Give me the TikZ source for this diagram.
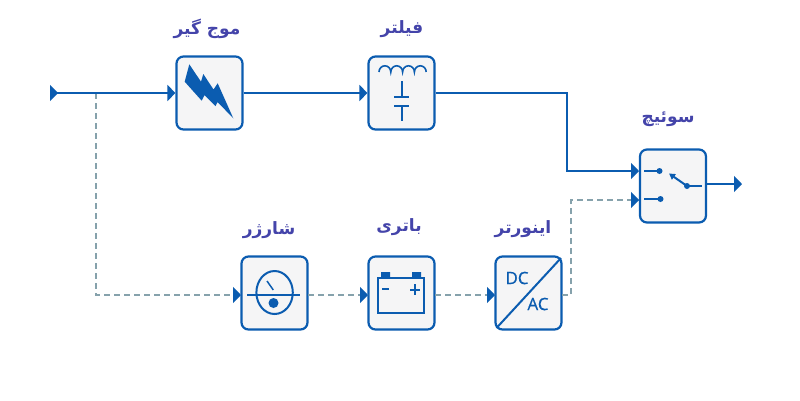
\documentclass[tikz,border=0pt]{standalone}
\usepackage{fontspec}
\usetikzlibrary{arrows.meta}
\TeXXeTstate=1
\newfontfamily\arabicfont[Script=Arabic]{DejaVu Sans}
\newfontfamily\labelfont[FakeBold=0.5]{Open Sans}
\definecolor{flowblue}{HTML}{0B5CB0}
\definecolor{dashgrey}{HTML}{86A2AC}
\definecolor{boxfill}{HTML}{F5F5F6}
\definecolor{titleblue}{HTML}{4444AA}
\tikzset{
  x=1pt,y=-1pt,
  block/.style={draw=flowblue,line width=2.2pt,fill=boxfill,rounded corners=7pt,minimum width=66pt,minimum height=73pt,inner sep=0pt},
  title/.style={text=titleblue,font=\arabicfont\bfseries\fontsize{17}{19}\selectfont,inner sep=0pt},
  flow/.style={draw=flowblue,line width=2.4pt,-{Triangle[length=8pt,width=16pt]}},
  backup/.style={draw=dashgrey,line width=1.8pt,dash pattern=on 6pt off 4pt},
  icon/.style={draw=flowblue,line width=2pt},
  dc/.style={text=flowblue,font=\labelfont\fontsize{17}{19}\selectfont,inner sep=0pt}
}
\begin{document}
\begin{tikzpicture}
\useasboundingbox (0,0) rectangle (800,400);
\fill[white] (0,0) rectangle (800,400);
% blocks
\node[block] (surge) at (209.5,93) {};
\node[block] (filter) at (401.5,93) {};
\node[block] (charger) at (274.5,293) {};
\node[block] (battery) at (401.5,293) {};
\node[block] (inverter) at (528.5,293) {};
\node[block] (switch) at (673,186) {};
% titles
\node[title] at (207,29) {\beginR موج گیر\endR};
\node[title] at (402,29) {\beginR فیلتر\endR};
\node[title] at (668,119) {\beginR سوئیچ\endR};
\node[title] at (269,230) {\beginR شارژر\endR};
\node[title] at (399,227) {\beginR باتری\endR};
\node[title] at (523,229) {\beginR اینورتر\endR};
% helper coordinates
\coordinate (in) at (50,93);
\coordinate (inb) at (58,93);
\coordinate (inc) at (55,93);
\coordinate (branch) at (96,93);
\coordinate (branchb) at (96,295);
\coordinate (fc) at (567,93);
\coordinate (fd) at (567,171);
\coordinate (sa) at (639,171);
\coordinate (ib) at (571,295);
\coordinate (ic) at (571,200);
\coordinate (sb) at (639,200);
\coordinate (out) at (742,184);
\coordinate (oa) at (706,184);
\coordinate (ca) at (241,295);
\coordinate (cb) at (308,295);
\coordinate (ba) at (368,295);
\coordinate (bb) at (435,295);
\coordinate (ia) at (495,295);
\coordinate (ie) at (562,295);
% dashed branch
\draw[backup] (branch) -- (branchb) -- (ca);
\draw[backup] (cb) -- (ba);
\draw[backup] (bb) -- (ia);
\draw[backup] (ie) -- (ib) -- (ic) -- (sb);
\path[flow] (233,295) -- (ca);
\path[flow] (360,295) -- (ba);
\path[flow] (487,295) -- (ia);
\path[flow] (631,200) -- (sb);
% solid lines
\path[flow] (in) -- (inb);
\draw[flow] (inc) -- (surge.west);
\draw[flow] (surge.east) -- (filter.west);
\draw[flow] (filter.east) -- (fc) -- (fd) -- (sa);
\draw[flow] (oa) -- (out);
% surge icon
\fill[flowblue] (189.3,64.3) -- (201,81.7) -- (203.3,74) -- (213.5,89.5) -- (217.7,83.3) -- (233.3,118.3) -- (217.5,102) -- (215.5,106) -- (204.5,95) -- (201.7,100.7) -- (184.7,81.7) -- cycle;
% filter icon
\draw[icon,line width=1.6pt] (379,72) arc[start angle=180,end angle=360,x radius=5.9,y radius=6.2]
  arc[start angle=180,end angle=360,x radius=5.9,y radius=6.2]
  arc[start angle=180,end angle=360,x radius=5.9,y radius=6.2]
  arc[start angle=180,end angle=360,x radius=5.9,y radius=6.2];
\draw[icon] (401.7,81) -- (401.7,97) (394,97) -- (409,97) (394,105.7) -- (409,105.7) (401.7,105.7) -- (401.7,120.7);
% charger icon
\draw[icon] (274.6,292.5) ellipse[x radius=18.2,y radius=21.5];
\draw[icon] (247,295) -- (300,295);
\draw[icon,line width=1.5pt] (267,281) -- (273.3,290);
\fill[flowblue] (273.5,303) circle[radius=5];
% battery icon
\draw[icon] (377.5,277.5) rectangle (424,313);
\fill[flowblue] (381,272) rectangle (390,277.5) (412,272) rectangle (421,277.5);
\draw[icon] (382,289) -- (389,289) (410,289.5) -- (420,289.5) (415,284) -- (415,295);
% inverter icon
\draw[icon] (561,258) -- (496.5,328);
\node[dc] at (517,278) {DC};
\node[dc] at (538,304) {AC};
% switch icon
\draw[icon] (644,171) -- (659,171) (644,199) -- (660,199) (687,186) -- (702,186);
\fill[flowblue] (659.5,171) circle[radius=3] (660.5,199) circle[radius=3] (687,186) circle[radius=3];
\draw[icon,-{Triangle[length=6pt,width=6.5pt]}] (687,186) -- (669,173.5);
\end{tikzpicture}
\end{document}
